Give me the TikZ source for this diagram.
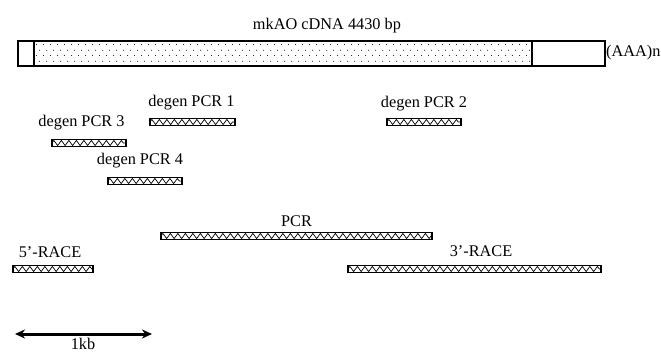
\documentclass[tikz,border=0pt]{standalone}
\usepackage{fontspec}
\setmainfont{Liberation Serif}
\usetikzlibrary{arrows.meta, positioning, decorations.pathmorphing, patterns.meta}
\tikzdeclarepattern{
  name=cdsdots, type=uncolored,
  bottom left={(0pt,0pt)}, top right={(7pt,11pt)}, tile size={(7pt,11pt)},
  code={\fill (1.75pt,2.75pt) circle (0.6pt); \fill (5.25pt,8.25pt) circle (0.6pt);}
}
\tikzset{
  seg/.style={draw, line width=1.1pt, minimum height=25pt, inner sep=0pt, outer sep=0pt},
  bar/.style={draw, line width=1.3pt, minimum height=7pt, inner sep=0pt, outer sep=0pt,
    path picture={\draw[line width=0.7pt, decorate, decoration={zigzag, segment length=7.5pt, amplitude=2.6pt}]
      (path picture bounding box.west) -- (path picture bounding box.east);}},
  lbl/.style={font=\fontsize{16.3}{19}\selectfont, inner sep=0pt, text height=11pt, text depth=4pt},
  scalearrow/.style={{Stealth[length=10pt,width=9pt]}-{Stealth[length=10pt,width=9pt]}, line width=3pt}
}
\begin{document}
\begin{tikzpicture}[x=1pt,y=-1pt]
\useasboundingbox (0,0) rectangle (661,355);
% cDNA
\node[seg, minimum width=16pt, anchor=north west] (utrL) at (18,41) {};
\node[seg, minimum width=498pt, pattern=cdsdots, right=0pt of utrL] (cds) {};
\node[seg, minimum width=73pt, right=0pt of cds] (utrR) {};
\node[lbl, right=1pt of utrR] (polyA) {(AAA)n};
\node[lbl, above=7pt of cds, xshift=44pt] (title) {mkAO cDNA 4430 bp};

% degenerate PCR fragments
\node[bar, minimum width=85pt] (dpcrA) at (192.5,122) {};
\node[bar, minimum width=74pt] (dpcrB) at (424,122) {};
\node[bar, minimum width=74pt] (dpcrC) at (89,143) {};
\node[bar, minimum width=74pt] (dpcrD) at (145,181) {};
\node[lbl, above=8pt of dpcrA, xshift=-1pt] {degen PCR 1};
\node[lbl, above=7pt of dpcrB] {degen PCR 2};
\node[lbl, above=9pt of dpcrC, xshift=-7.5pt] {degen PCR 3};
\node[lbl, above=9pt of dpcrD, xshift=-5pt] {degen PCR 4};

% PCR and RACE
\node[bar, minimum width=271pt] (pcr) at (296.5,236) {};
\node[bar, minimum width=80pt] (raceL) at (53,269) {};
\node[bar, minimum width=253pt] (raceR) at (474.5,269) {};
\node[lbl, above=2pt of pcr] {PCR};
\node[lbl, above=4pt of raceL, xshift=-3pt] {5’-RACE};
\node[lbl, above=5pt of raceR, xshift=6.5pt] {3’-RACE};

% scale
\coordinate (scaleL) at (15,334);
\coordinate (scaleR) at (152,334);
\draw[scalearrow] (scaleL) -- (scaleR) node[lbl, midway, below=3pt, xshift=-0.5pt] (scale) {1kb};
\end{tikzpicture}
\end{document}
